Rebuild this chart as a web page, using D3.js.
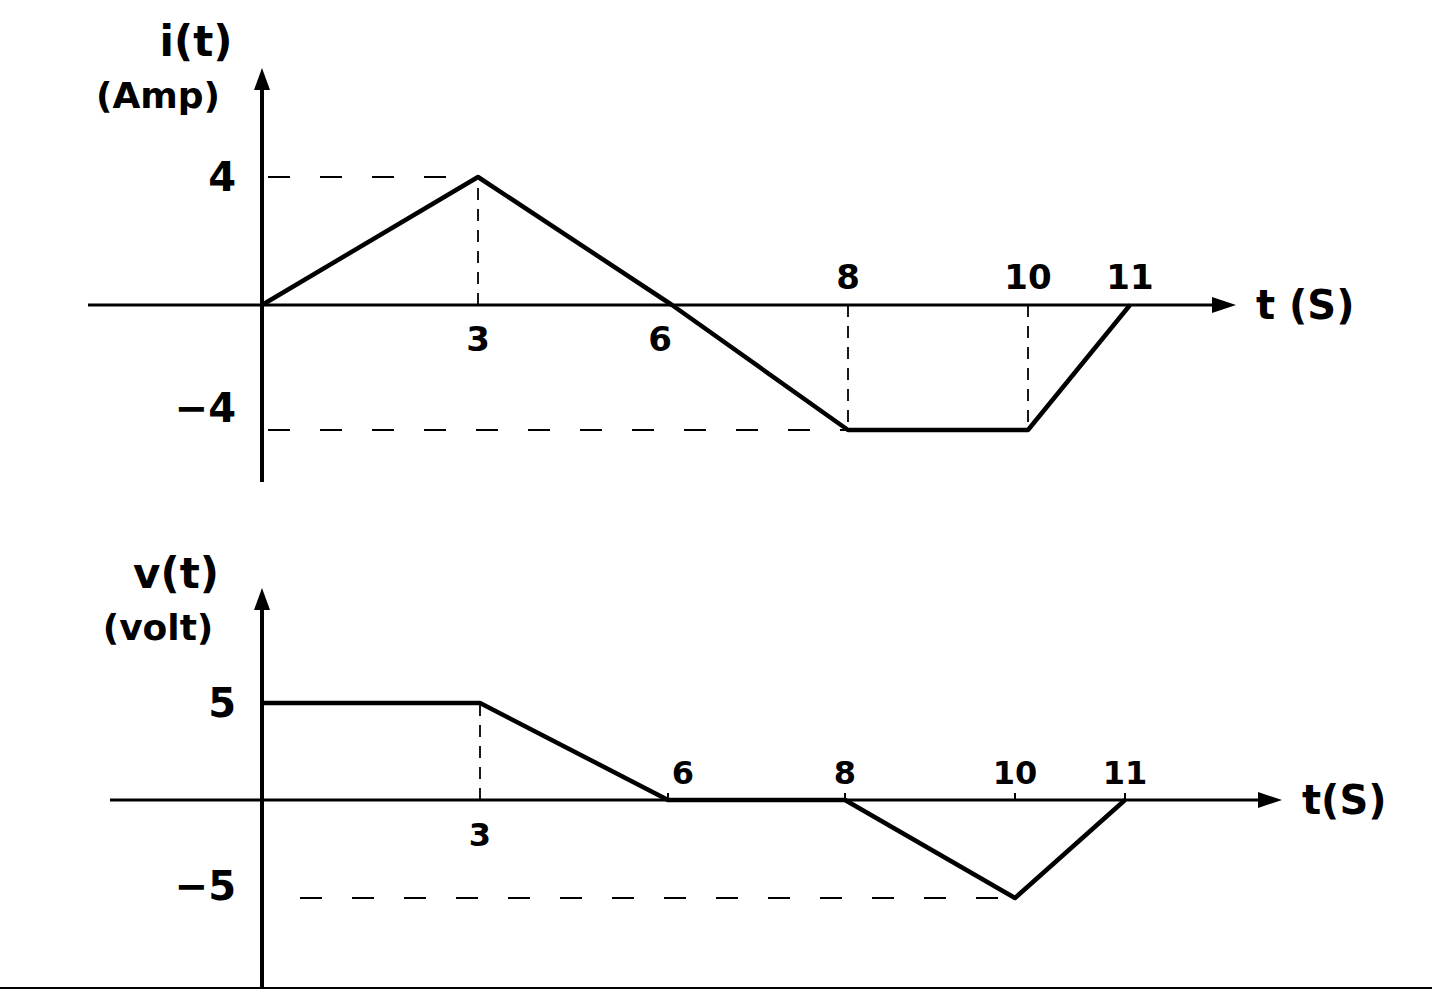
<!DOCTYPE html>
<html>
<head>
<meta charset="utf-8">
<script src="https://cdn.jsdelivr.net/npm/d3@7"></script>
<style>
  body { margin: 0; background: #fff; }
  text { font-family: "DejaVu Sans", sans-serif; fill: #000; font-weight: bold; }
</style>
</head>
<body>
<svg id="chart" width="1432" height="990"></svg>
<script>
// Data
var tPoints   = [0, 3, 6, 8, 10, 11];
var iValues   = [0, 4, 0, -4, -4, 0];   // Amp
var vValues   = [5, 5, 0, 0, -5, 0];    // Volt
var tTicks    = [3, 6, 8, 10, 11];
var iTicks    = [4, -4];
var vTicks    = [5, -5];

var svg = d3.select("#chart");

// hand drawn axes are not evenly spaced, so piecewise scales
var xTop = d3.scaleLinear().domain(tPoints).range([262, 478, 672, 848, 1028, 1130]);
var yTop = d3.scaleLinear().domain([-4, 0, 4]).range([430, 305, 177]);
var xBot = d3.scaleLinear().domain(tPoints).range([262, 480, 668, 845, 1015, 1125]);
var yBot = d3.scaleLinear().domain([-5, 0, 5]).range([898, 800, 703]);

function arrowRight(x, y) {
    svg.append("path")
        .attr("d", "M" + (x - 24) + "," + (y - 8) + "L" + x + "," + y + "L" + (x - 24) + "," + (y + 8) + "Z")
        .attr("fill", "#000");
}
function arrowUp(x, y) {
    svg.append("path")
        .attr("d", "M" + (x - 8) + "," + (y + 22) + "L" + x + "," + y + "L" + (x + 8) + "," + (y + 22) + "Z")
        .attr("fill", "#000");
}
function dashed(x1, y1, x2, y2, pattern) {
    svg.append("line")
        .attr("x1", x1).attr("y1", y1).attr("x2", x2).attr("y2", y2)
        .attr("stroke", "#000")
        .attr("stroke-width", 1.8)
        .attr("stroke-dasharray", pattern);
}

function drawPanel(x, y, values, yTicks, opt) {
    var x0 = x(0), y0 = y(0);
    // x axis
    svg.append("line")
        .attr("x1", opt.xStart).attr("y1", y0)
        .attr("x2", opt.xEnd - 10).attr("y2", y0)
        .attr("stroke", "#000").attr("stroke-width", 3);
    arrowRight(opt.xEnd, y0);
    // y axis
    svg.append("line")
        .attr("x1", x0).attr("y1", opt.yTop + 10)
        .attr("x2", x0).attr("y2", opt.yBottom)
        .attr("stroke", "#000").attr("stroke-width", 4);
    arrowUp(x0, opt.yTop);

    // guide lines
    yTicks.forEach(function(v) {
        var tv = tPoints[values.indexOf(v)];
        dashed(x0 + opt.dashGap, y(v), x(tv), y(v), "22 30");
        tPoints.forEach(function(t, k) {
            if (values[k] === v && t > 0 && opt.drop.indexOf(t) >= 0)
                dashed(x(t), y0, x(t), y(v), "12 9");
        });
    });

    // the signal
    var line = d3.line()
        .x(function(d) { return x(d[0]); })
        .y(function(d) { return y(d[1]); });
    svg.append("path")
        .datum(d3.zip(tPoints, values))
        .attr("d", line)
        .attr("fill", "none")
        .attr("stroke", "#000")
        .attr("stroke-width", 4.5)
        .attr("stroke-linejoin", "round");

    // t labels
    tTicks.forEach(function(t) {
        var below = opt.below.indexOf(t) >= 0;
        svg.append("text")
            .attr("x", x(t) + (opt.dx[t] || 0))
            .attr("y", y0 + (below ? 46 : -16))
            .attr("text-anchor", "middle")
            .attr("font-size", opt.tSize)
            .text(t);
    });
    // y labels
    yTicks.forEach(function(v) {
        svg.append("text")
            .attr("x", x0 - 26)
            .attr("y", y(v) + (v > 0 ? 14 : opt.negDy))
            .attr("text-anchor", "end")
            .attr("font-size", 40)
            .text(v > 0 ? v : "\u2212" + Math.abs(v));
    });
    // titles
    svg.append("text")
        .attr("x", opt.titleX).attr("y", opt.titleY)
        .attr("text-anchor", "middle")
        .attr("font-size", 42)
        .text(opt.title);
    svg.append("text")
        .attr("x", opt.unitX).attr("y", opt.titleY + 52)
        .attr("text-anchor", "middle")
        .attr("font-size", 36)
        .text(opt.unit);
    svg.append("text")
        .attr("x", opt.xEnd + 20).attr("y", y0 + 14)
        .attr("font-size", 40)
        .text(opt.xTitle);
}

drawPanel(xTop, yTop, iValues, iTicks, {
    xStart: 88, xEnd: 1236, yTop: 68, yBottom: 482, dashGap: 6,
    below: [3, 6], dx: {6: -12}, tSize: 34, negDy: -8, drop: [3, 8, 10],
    title: "i(t)", unit: "(Amp)", titleX: 196, titleY: 56, unitX: 158,
    xTitle: "t (S)"
});
drawPanel(xBot, yBot, vValues, vTicks, {
    xStart: 110, xEnd: 1282, yTop: 588, yBottom: 988, dashGap: 38,
    below: [3], dx: {6: 15}, tSize: 32, negDy: 2, drop: [3],
    title: "v(t)", unit: "(volt)", titleX: 176, titleY: 588, unitX: 158,
    xTitle: "t(S)"
});

// small ticks on the lower time axis
[6, 8, 10, 11].forEach(function(t) {
    svg.append("line")
        .attr("x1", xBot(t)).attr("x2", xBot(t))
        .attr("y1", yBot(0) - 7).attr("y2", yBot(0))
        .attr("stroke", "#000").attr("stroke-width", 2);
});

// page edge at the bottom
svg.append("line")
    .attr("x1", 0).attr("x2", 1432).attr("y1", 988).attr("y2", 988)
    .attr("stroke", "#000").attr("stroke-width", 2);
</script>
</body>
</html>
